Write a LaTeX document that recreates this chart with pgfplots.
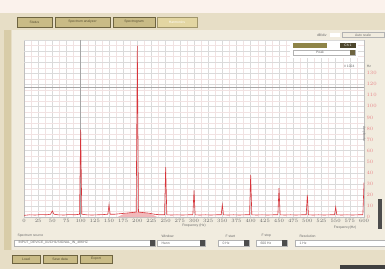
\documentclass[border=0pt]{standalone}
\usepackage{pgfplots}
\pgfplotsset{compat=1.18}
\usepackage{fontspec}
\setmainfont{Liberation Sans}
\definecolor{topbg}{HTML}{FBF2EC}
\definecolor{winbg}{HTML}{E7DEC6}
\definecolor{leftbar}{HTML}{D8CCA8}
\definecolor{panel}{HTML}{F1ECDF}
\definecolor{btn}{HTML}{C9BB86}
\definecolor{btnd}{HTML}{6E6440}
\definecolor{seltab}{HTML}{E3D6A2}
\definecolor{olive}{HTML}{8E8448}
\definecolor{gridminor}{HTML}{F1E2E2}
\definecolor{gridmajor}{HTML}{DADADA}
\definecolor{spec}{HTML}{D8343A}
\definecolor{txt}{HTML}{6A6A6A}
\newcommand{\tf}{\fontsize{3.4}{4}\selectfont}
\begin{document}
\begin{tikzpicture}[x=1pt,y=1pt]
\useasboundingbox (0,0) rectangle (385,269);
\clip (0,0) rectangle (385,269);
% backgrounds
\fill[topbg] (0,0) rectangle (385,269);
\fill[winbg] (0,0) rectangle (385,256);
\fill[panel] (12,19) rectangle (385,239);
\fill[leftbar] (4,19) rectangle (11,239);
% tab buttons
\foreach \a/\b/\t in {17/52/Status,55/110/Spectrum analyzer,113/155/Spectrogram}{
  \fill[btn] (\a,242) rectangle (\b,252);
  \draw[btnd,line width=0.6] (\a,242) rectangle (\b,252);
  \node[font=\tf,text=btnd!80!black] at ({(\a+\b)/2},247) {\t};
}
\fill[seltab] (157,242) rectangle (197,252);
\draw[btn!80!black,line width=0.5] (157,242) rectangle (197,252);
\node[font=\tf,text=white] at (177,247) {Harmonics};
% top-right controls
\node[font=\tf,text=txt,anchor=east] at (330,234) {dB/div};
\fill[white] (330,232) rectangle (340,236);
\draw[gray!60] (342,231.5) rectangle (384,236.5);
\node[font=\tf,text=txt] at (363,234) {Auto scale};
\begin{scope}[shift={(24pt,52pt)}]
\begin{axis}[
  at={(0pt,0pt)}, anchor=south west, scale only axis,
  width=340pt, height=177pt,
  xmin=0, xmax=600, ymin=0, ymax=160,
  xtick={0,25,...,600}, ytick={0,10,...,130},
  minor xtick={12.5,37.5,...,600}, minor ytick={5,15,...,160},
  extra y ticks={140,150,160}, extra y tick labels={},
  extra y tick style={grid=major},
  grid=both,
  major grid style={gridmajor, line width=0.4},
  minor grid style={gridminor, line width=0.3},
  axis background/.style={fill=white},
  axis line style={draw=gray!50},
  major tick length=0pt, minor tick length=0pt,
  yticklabel pos=right,
  tick label style={font=\tf, text=txt},
  xticklabel style={yshift=1pt},
  yticklabel style={xshift=-1pt, text=spec!60},
  xlabel={Frequency (Hz)}, ylabel={Amplitude},
  xlabel style={font=\tf, text=txt, yshift=6pt},
  every axis y label/.style={at={(axis description cs:1,0.55)}, rotate=-90, anchor=center, xshift=14pt, font=\tf, text=txt},
  clip=true,
]
\addplot[gray!70, line width=0.7] coordinates {(100,0) (100,160)};
\addplot[gray!70, line width=0.7] coordinates {(0,117.5) (600,117.5)};
\addplot[spec!50, fill=spec!35, draw=none] coordinates {(165,0)(175,2.5)(185,3.8)(195,4.3)(205,4.3)(215,3.6)(225,2.5)(235,0)} \closedcycle;
\addplot[spec, line width=0.6] coordinates {
(0,1.5)(10,2)(20,1.8)(30,2.2)(40,2)(47,2.5)(50,5.5)(53,2.5)(60,2)(70,1.8)(80,2.2)(90,2)
(98,2.5)(100,79)(102,2.5)(110,2)(120,1.8)(130,2)(140,2.2)(148,2.5)(150,11)(152,2.5)
(160,2.5)(170,3)(180,3.5)(190,4)(198,4.5)(200,155)(202,4.5)(210,4)(220,3.5)(230,2.5)(240,2)
(248,2)(250,45)(252,2)(260,1.8)(270,2)(280,1.8)(290,2)(298,2)(300,24)(302,2)(310,1.8)
(320,2)(330,1.8)(340,2)(348,2)(350,11)(352,2)(360,1.8)(370,2)(380,1.8)(390,2)(398,2)
(400,38)(402,2)(410,1.8)(420,2)(430,1.8)(440,2)(448,2)(450,26)(452,2)(460,1.8)(470,2)
(480,1.8)(490,2)(498,2)(500,20)(502,2)(510,1.8)(520,2)(530,1.8)(540,2)(548,2)(550,9)
(552,2)(560,1.8)(570,2)(580,1.8)(590,2)(598,2)(600,31)};
\end{axis}
\end{scope}
% legend box (over the plot, top right)
\fill[white] (290,211) rectangle (358,228);
\fill[olive] (293,221) rectangle (327,226);
\fill[white] (327,221) rectangle (340,226);
\fill[btnd!70!black] (340,221) rectangle (356,226);
\node[font=\tf,text=white] at (348,223.5) {Ch 1};
\draw[gray!60] (293,214) rectangle (355,219);
\fill[btnd] (350,214) rectangle (355,219);
\node[font=\tf,text=txt] at (320,216.5) {Peak};
\node[font=\tf,text=txt,anchor=east] at (358,203) {\# 1024};
\node[font=\tf,text=txt] at (369,203) {Hz};
% right-side dark scrollbar piece
\fill[black!70] (378,40) rectangle (382,70);
\node[font=\tf,text=txt] at (345,41) {Frequency(Hz)};
% bottom controls
\node[font=\tf,text=txt,anchor=west] at (14,33) {Spectrum source};
\fill[white] (14,23) rectangle (150,29);
\draw[gray!60] (14,23) rectangle (155,29);
\node[font=\tf,text=txt,anchor=west] at (15,26) {INPUT\_DEVICE\_01/CH1/SIGNAL\_IN\_48KHZ};
\fill[black!70] (150,23) rectangle (155,29);
\node[font=\tf,text=txt,anchor=west] at (158,33) {Window};
\fill[white] (157,23) rectangle (200,29);
\draw[gray!60] (157,23) rectangle (205,29);
\node[font=\tf,text=txt,anchor=west] at (158,26) {Hann};
\fill[black!70] (200,23) rectangle (205,29);
\node[font=\tf,text=txt,anchor=west] at (222,33) {F start};
\fill[white] (218,23) rectangle (244,29);
\draw[gray!60] (218,23) rectangle (249,29);
\node[font=\tf,text=txt,anchor=west] at (219,26) {0 Hz};
\fill[black!70] (244,23) rectangle (249,29);
\node[font=\tf,text=txt,anchor=west] at (258,33) {F stop};
\fill[white] (256,23) rectangle (282,29);
\draw[gray!60] (256,23) rectangle (287,29);
\node[font=\tf,text=txt,anchor=west] at (257,26) {600 Hz};
\fill[black!70] (282,23) rectangle (287,29);
\node[font=\tf,text=txt,anchor=west] at (296,33) {Resolution};
\fill[white] (295,23) rectangle (385,29);
\draw[gray!60] (295,23) rectangle (385,29);
\node[font=\tf,text=txt,anchor=west] at (296,26) {1 Hz};
% bottom buttons
\foreach \a/\b/\t in {12/40/Load,43/77/Save data,80/112/Export}{
  \fill[btn] (\a,6) rectangle (\b,14);
  \draw[btnd,line width=0.6] (\a,6) rectangle (\b,14);
  \node[font=\tf,text=btnd!80!black] at ({(\a+\b)/2},10) {\t};
}
\fill[black!75] (340,0) rectangle (385,4);
\end{tikzpicture}
\end{document}
